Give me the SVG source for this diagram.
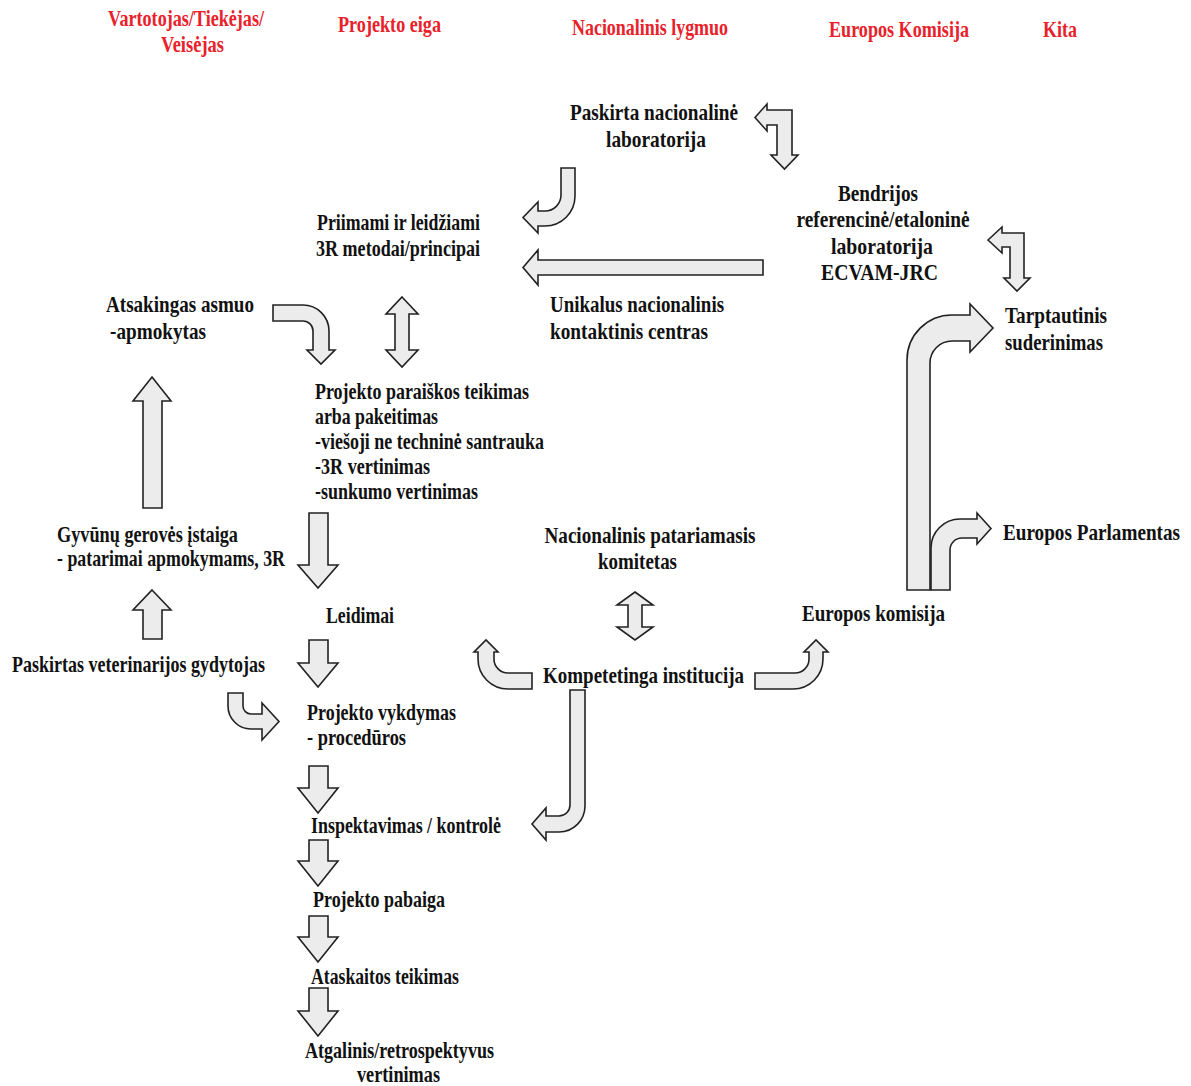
<svg xmlns="http://www.w3.org/2000/svg" width="1191" height="1086" viewBox="0 0 1191 1086">
<style>
  text { font-family: "Liberation Serif", "Times New Roman", serif; font-weight: bold; font-size: 23px; fill: #111; }
  .hdr { fill: #e8212b; }
  .c { text-anchor: middle; }
  .e { text-anchor: end; }
  .arr { fill: #ececec; stroke: #222; stroke-width: 1.6; stroke-linejoin: miter; }
</style>
<rect width="1191" height="1086" fill="#fff"/>

<g id="headers">
  <text class="hdr c" x="186" y="26" textLength="156" lengthAdjust="spacingAndGlyphs">Vartotojas/Tiekėjas/</text>
  <text class="hdr c" x="192.5" y="52" textLength="63" lengthAdjust="spacingAndGlyphs">Veisėjas</text>
  <text class="hdr c" x="389.5" y="32" textLength="103" lengthAdjust="spacingAndGlyphs">Projekto eiga</text>
  <text class="hdr c" x="650" y="35" textLength="156" lengthAdjust="spacingAndGlyphs">Nacionalinis lygmuo</text>
  <text class="hdr c" x="899" y="37" textLength="140" lengthAdjust="spacingAndGlyphs">Europos Komisija</text>
  <text class="hdr c" x="1060" y="37" textLength="34" lengthAdjust="spacingAndGlyphs">Kita</text>
</g>

<g id="n-paskirta-lab">
  <text class="c" x="654" y="120" textLength="168" lengthAdjust="spacingAndGlyphs">Paskirta nacionalinė</text>
  <text class="c" x="656" y="147" textLength="100" lengthAdjust="spacingAndGlyphs">laboratorija</text>
</g>
<g id="n-priimami">
  <text x="317" y="230" textLength="163" lengthAdjust="spacingAndGlyphs">Priimami ir leidžiami</text>
  <text x="316" y="256" textLength="164" lengthAdjust="spacingAndGlyphs">3R metodai/principai</text>
</g>
<g id="n-bendrijos">
  <text class="c" x="878" y="201" textLength="80" lengthAdjust="spacingAndGlyphs">Bendrijos</text>
  <text class="c" x="883" y="227" textLength="173" lengthAdjust="spacingAndGlyphs">referencinė/etaloninė</text>
  <text class="c" x="882" y="254" textLength="102" lengthAdjust="spacingAndGlyphs">laboratorija</text>
  <text class="c" x="879.5" y="280" textLength="117" lengthAdjust="spacingAndGlyphs">ECVAM-JRC</text>
</g>
<g id="n-atsakingas">
  <text x="106" y="312" textLength="148" lengthAdjust="spacingAndGlyphs">Atsakingas asmuo</text>
  <text x="110" y="339" textLength="96" lengthAdjust="spacingAndGlyphs">-apmokytas</text>
</g>
<g id="n-unikalus">
  <text x="550" y="312" textLength="174" lengthAdjust="spacingAndGlyphs">Unikalus nacionalinis</text>
  <text x="550" y="339" textLength="158" lengthAdjust="spacingAndGlyphs">kontaktinis centras</text>
</g>
<g id="n-tarptautinis">
  <text x="1005" y="323" textLength="102" lengthAdjust="spacingAndGlyphs">Tarptautinis</text>
  <text x="1005" y="350" textLength="98" lengthAdjust="spacingAndGlyphs">suderinimas</text>
</g>
<g id="n-paraiska">
  <text x="315" y="399" textLength="214" lengthAdjust="spacingAndGlyphs">Projekto paraiškos teikimas</text>
  <text x="315" y="424" textLength="123" lengthAdjust="spacingAndGlyphs">arba pakeitimas</text>
  <text x="315" y="449" textLength="229" lengthAdjust="spacingAndGlyphs">-viešoji ne techninė santrauka</text>
  <text x="315" y="474" textLength="115" lengthAdjust="spacingAndGlyphs">-3R vertinimas</text>
  <text x="315" y="499" textLength="163" lengthAdjust="spacingAndGlyphs">-sunkumo vertinimas</text>
</g>
<g id="n-gyvunu">
  <text x="57" y="542" textLength="181" lengthAdjust="spacingAndGlyphs">Gyvūnų gerovės įstaiga</text>
  <text x="57" y="566" textLength="228" lengthAdjust="spacingAndGlyphs">- patarimai apmokymams, 3R</text>
</g>
<g id="n-patariamasis">
  <text class="c" x="650" y="543" textLength="211" lengthAdjust="spacingAndGlyphs">Nacionalinis patariamasis</text>
  <text class="c" x="637.5" y="569" textLength="79" lengthAdjust="spacingAndGlyphs">komitetas</text>
</g>
<g id="n-parlamentas">
  <text class="e" x="1180" y="540" textLength="177" lengthAdjust="spacingAndGlyphs">Europos Parlamentas</text>
</g>
<g id="n-leidimai">
  <text x="326" y="623" textLength="68" lengthAdjust="spacingAndGlyphs">Leidimai</text>
</g>
<g id="n-eu-komisija">
  <text x="802" y="621" textLength="143" lengthAdjust="spacingAndGlyphs">Europos komisija</text>
</g>
<g id="n-veterinaras">
  <text x="12" y="672" textLength="253" lengthAdjust="spacingAndGlyphs">Paskirtas veterinarijos gydytojas</text>
</g>
<g id="n-kompetetinga">
  <text x="543" y="683" textLength="201" lengthAdjust="spacingAndGlyphs">Kompetetinga institucija</text>
</g>
<g id="n-vykdymas">
  <text x="307" y="720" textLength="149" lengthAdjust="spacingAndGlyphs">Projekto vykdymas</text>
  <text x="307" y="745" textLength="99" lengthAdjust="spacingAndGlyphs">- procedūros</text>
</g>
<g id="n-inspektavimas">
  <text x="311" y="833" textLength="190" lengthAdjust="spacingAndGlyphs">Inspektavimas / kontrolė</text>
</g>
<g id="n-pabaiga">
  <text x="313" y="907" textLength="132" lengthAdjust="spacingAndGlyphs">Projekto pabaiga</text>
</g>
<g id="n-ataskaitos">
  <text x="311" y="984" textLength="148" lengthAdjust="spacingAndGlyphs">Ataskaitos teikimas</text>
</g>
<g id="n-atgalinis">
  <text class="c" x="399.5" y="1058" textLength="189" lengthAdjust="spacingAndGlyphs">Atgalinis/retrospektyvus</text>
  <text class="c" x="398.5" y="1082" textLength="83" lengthAdjust="spacingAndGlyphs">vertinimas</text>
</g>

<g id="connectors">
  <path class="arr" d="M755 117.5 L767 104 L767 110 L792 110 L792 155 L798 155 L784.5 169 L771 155 L777 155 L777 125 L767 125 L767 131 Z"/>
  <path class="arr" d="M988 240 L1002 227 L1002 233 L1024 233 L1024 278 L1030 278 L1017 291 L1004 278 L1010 278 L1010 247 L1002 247 L1002 253 Z"/>
  <path class="arr" d="M561 168 L575 168 L575 196 A30 30 0 0 1 545 226 L538 226 L538 233 L523 217.5 L538 202 L538 211 L545 211 A16 16 0 0 0 561 195 Z"/>
  <path class="arr" d="M763 260 L763 275 L538 275 L538 285 L523 267.5 L538 250 L538 260 Z"/>
  <path class="arr" d="M273 305 L303 305 A26 26 0 0 1 329 331 L329 350 L335 350 L321 364 L307 350 L313 350 L313 331 A10 10 0 0 0 303 321 L273 321 Z"/>
  <path class="arr" d="M402 297 L418 314 L409 314 L409 350 L418 350 L402 367 L386 350 L395 350 L395 314 L386 314 Z"/>
  <path class="arr" d="M152 377 L171 401 L162 401 L162 508 L143 508 L143 401 L133 401 Z"/>
  <path class="arr" d="M152 590 L171 610 L162 610 L162 639 L143 639 L143 610 L133 610 Z"/>
  <path class="arr" d="M309 513 L328 513 L328 565 L338 565 L318 588 L298 565 L309 565 Z"/>
  <path class="arr" d="M309 640 L328 640 L328 663 L338 663 L318 687 L298 663 L309 663 Z"/>
  <path class="arr" d="M309 766 L328 766 L328 788 L338 788 L318 813 L298 788 L309 788 Z"/>
  <path class="arr" d="M309 840 L328 840 L328 861 L338 861 L318 886 L298 861 L309 861 Z"/>
  <path class="arr" d="M309 916 L328 916 L328 937 L338 937 L318 962 L298 937 L309 937 Z"/>
  <path class="arr" d="M309 988 L328 988 L328 1011 L338 1011 L318 1036 L298 1011 L309 1011 Z"/>
  <path class="arr" d="M228 693 L243 693 L243 706 A8 8 0 0 0 251 714 L262 714 L262 703 L279 721.5 L262 740 L262 729 L251 729 A23 23 0 0 1 228 706 Z"/>
  <path class="arr" d="M635 592 L653 605 L642 605 L642 627 L653 627 L635 640 L617 627 L628 627 L628 605 L617 605 Z"/>
  <path class="arr" d="M532 673 L508 673 A14 14 0 0 1 494 659 L494 652 L498 652 L486 640 L474 652 L478 652 L478 659 A30 30 0 0 0 508 689 L532 689 Z"/>
  <path class="arr" d="M755 673 L795 673 A14 14 0 0 0 809 659 L809 652 L804 652 L816 640 L828 652 L823 652 L823 659 A30 30 0 0 1 793 689 L755 689 Z"/>
  <path class="arr" d="M570 690 L585 690 L585 806 A26 26 0 0 1 559 832 L546 832 L546 840 L532 824 L546 808 L546 816 L559 816 A11 11 0 0 0 570 805 Z"/>
  <path class="arr" d="M907 590 L907 360 A45 45 0 0 1 952 315 L970 315 L970 304 L993 328 L970 352 L970 341 L952 341 A22 22 0 0 0 930 363 L930 590 Z"/>
  <path class="arr" d="M931 590 L931 548 A29 29 0 0 1 960 519 L977 519 L977 513 L991 528.5 L977 544 L977 538 L962 538 A12 12 0 0 0 950 550 L950 590 Z"/>
</g>
</svg>
